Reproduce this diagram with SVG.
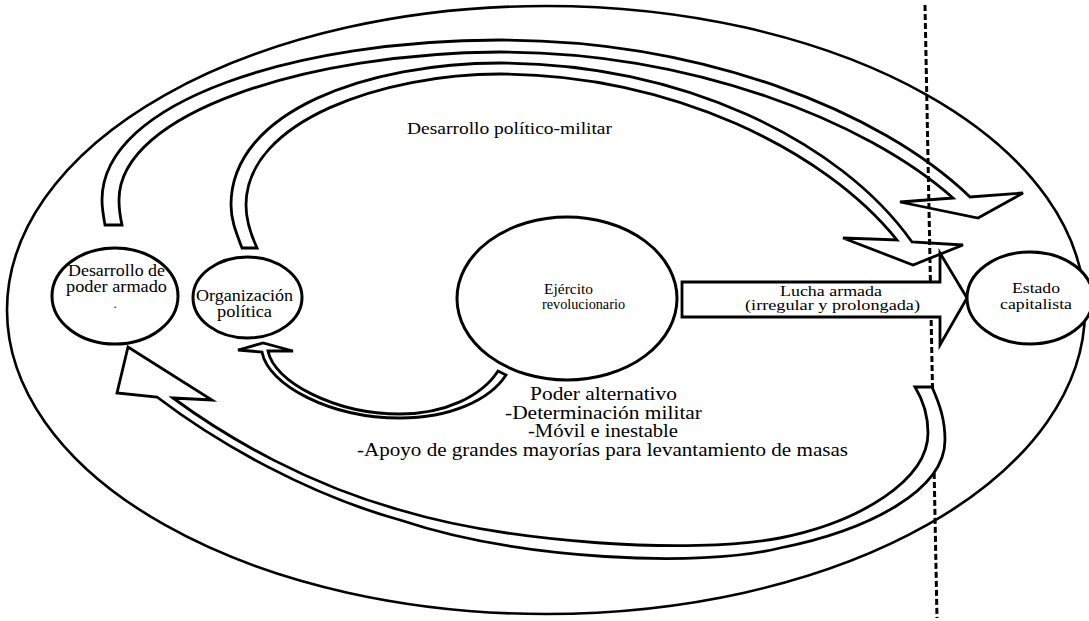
<svg xmlns="http://www.w3.org/2000/svg" width="1089" height="621" viewBox="0 0 1089 621">
  <style>
    .node ellipse { fill: #fff; stroke: #000; stroke-width: 3; }
    .band { fill: #fff; stroke: #000; stroke-width: 2.8; stroke-linejoin: miter; }
    .lbl { font-family: "Liberation Serif", "Times New Roman", serif; fill: #000; text-anchor: middle; }
    .frontier { fill: none; stroke: #000; stroke-width: 3; stroke-dasharray: 6 3; }
  </style>
  <rect width="1089" height="621" fill="#fff"/>

  <!-- outer frame enclosing the whole process -->
  <ellipse id="frame" cx="546" cy="310" rx="539" ry="304" fill="none" stroke="#000" stroke-width="2.6"/>

  <text class="lbl" x="509.5" y="134" font-size="17.5" textLength="205" lengthAdjust="spacingAndGlyphs">Desarrollo político-militar</text>

  <g id="connectors">
    <!-- wide arc: armed power development towards the state -->
    <path id="arc-armado" class="band" d="M105,225 C103,214 102,207 102,200 C102,100 300,40 500,40 C700,40 880,110 970,197 L1023,193 L978,218 L900,202 L953,198 C865,120 690,52 500,52 C310,53 119,112 119,200 C119,208 120,216 122,225 Z"/>
    <!-- inner arc: political organisation towards the state -->
    <path id="arc-organizacion" class="band" d="M242,248 C236,232 231,220 231,205 C231,110 370,63 500,63 C680,63 840,140 912,242 L963,245 L913,265 L843,238 L897,240 C825,150 670,74 500,74 C385,74 246,120 246,205 C246,220 251,235 257,248 Z"/>
    <!-- frontier line -->
    <line id="frontier" class="frontier" x1="925" y1="5" x2="937" y2="618"/>
    <!-- armed struggle block arrow -->
    <g id="lucha">
      <path class="band" stroke-width="3" d="M682,282 H940 V253 L967,298 L940,345 V317 H682 Z"/>
      <text class="lbl" x="831" y="296" font-size="15" textLength="102" lengthAdjust="spacingAndGlyphs">Lucha armada</text>
      <text class="lbl" x="832.5" y="310" font-size="15" textLength="175" lengthAdjust="spacingAndGlyphs">(irregular y prolongada)</text>
    </g>
    <!-- lower return arc back to armed power development -->
    <path id="arc-retorno" class="band" d="M915,387 L932,387 C940,405 945,420 945,440 C945,490 870,530 780,548 C700,568 520,560 400,520 C310,495 220,445 157,397 L117,393 L128,347 L212,400 L173,398 C230,440 310,485 400,510 C510,543 690,555 780,538 C860,522 928,480 928,433 C928,415 923,400 915,387 Z"/>
    <!-- small arc: army feeding political organisation -->
    <path id="arc-ejercito" class="band" d="M506,375 C490,400 450,418 400,418 C330,418 268,385 262,352 L238,350 L263,343 L293,351 L268,351 C274,382 335,414 400,414 C445,414 482,396 498,371 Z"/>
  </g>

  <g id="node-desarrollo" class="node">
    <ellipse cx="115" cy="296" rx="63" ry="48"/>
    <text class="lbl" x="116.5" y="276" font-size="16" textLength="97" lengthAdjust="spacingAndGlyphs">Desarrollo de</text>
    <text class="lbl" x="116.5" y="292" font-size="16" textLength="101" lengthAdjust="spacingAndGlyphs">poder armado</text>
    <text class="lbl" x="115" y="307.5" font-size="13">.</text>
  </g>

  <g id="node-organizacion" class="node">
    <ellipse cx="247.5" cy="297.5" rx="54.5" ry="40.5"/>
    <text class="lbl" x="244.5" y="301" font-size="16" textLength="97" lengthAdjust="spacingAndGlyphs">Organización</text>
    <text class="lbl" x="244.5" y="317" font-size="16" textLength="55" lengthAdjust="spacingAndGlyphs">política</text>
  </g>

  <g id="node-ejercito" class="node">
    <ellipse cx="567" cy="298.5" rx="110" ry="81.5"/>
    <text class="lbl" style="text-anchor:start" x="544" y="294" font-size="15" textLength="49" lengthAdjust="spacingAndGlyphs">Ejército</text>
    <text class="lbl" style="text-anchor:start" x="542" y="309" font-size="15" textLength="83" lengthAdjust="spacingAndGlyphs">revolucionario</text>
  </g>

  <g id="node-estado" class="node">
    <ellipse cx="1030" cy="298" rx="63" ry="46"/>
    <text class="lbl" x="1036" y="293" font-size="15" textLength="48" lengthAdjust="spacingAndGlyphs">Estado</text>
    <text class="lbl" x="1036" y="309" font-size="15" textLength="72" lengthAdjust="spacingAndGlyphs">capitalista</text>
  </g>

  <g id="poder-alternativo">
    <text class="lbl" x="603.5" y="400" font-size="18" textLength="147" lengthAdjust="spacingAndGlyphs">Poder alternativo</text>
    <text class="lbl" x="603.5" y="418.5" font-size="18" textLength="197" lengthAdjust="spacingAndGlyphs">-Determinación militar</text>
    <text class="lbl" x="603" y="437" font-size="18" textLength="150" lengthAdjust="spacingAndGlyphs">-Móvil e inestable</text>
    <text class="lbl" x="602.5" y="455.5" font-size="18" textLength="491" lengthAdjust="spacingAndGlyphs">-Apoyo de grandes mayorías para levantamiento de masas</text>
  </g>
</svg>
